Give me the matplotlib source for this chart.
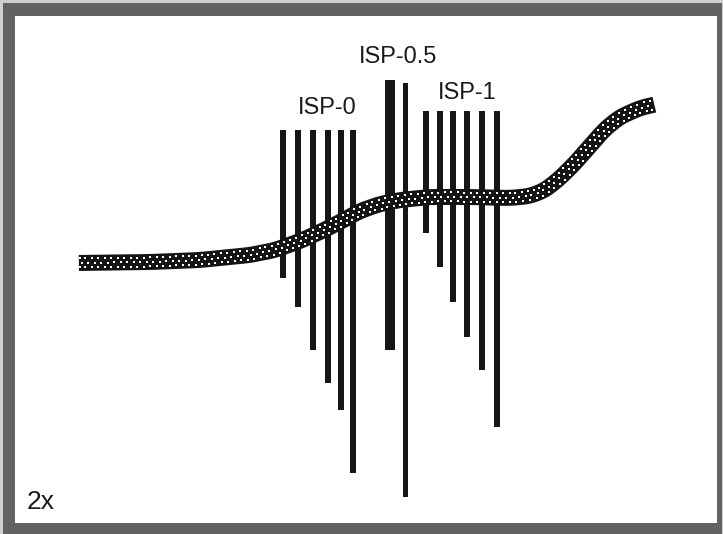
import numpy as np
import matplotlib
matplotlib.use("Agg")
import matplotlib.pyplot as plt
from matplotlib.patches import Rectangle, Polygon

plt.rcParams['font.family'] = ['Liberation Sans', 'DejaVu Sans']

# bar groups (pixel space of the original figure, y grows downward)
isp0_x = [283, 298, 313, 328, 341, 353]
isp0_top = 130
isp0_bottom = [278, 307, 350, 383, 410, 473]

isp05_x = [390, 405.5]
isp05_top = [80, 83]
isp05_bottom = [350, 497]
isp05_width = [10, 5]

isp1_x = [426, 440, 453, 467, 482, 497]
isp1_top = 111
isp1_bottom = [233, 267, 302, 337, 370, 427]

# centre line of the dotted band
band_x = [77, 150, 200, 250, 275, 300, 320, 340, 360, 380, 400, 430, 470, 510,
          530, 545, 560, 575, 590, 605, 620, 640, 657]
band_y = [263, 262, 260, 255, 250, 241, 232, 222, 211, 204, 200, 197, 197, 198,
          196, 190, 178, 163, 146, 129, 117, 108, 104]

labels = ["ISP-0", "ISP-0.5", "ISP-1"]
label_pos = [(327, 108), (398, 57), (467, 93)]

W, H = 723, 534
fig = plt.figure(figsize=(W / 100, H / 100), dpi=100)
fig.patch.set_facecolor('#cfcfcf')
ax = fig.add_axes([0, 0, 1, 1])
ax.set_xlim(0, W)
ax.set_ylim(H, 0)
ax.axis('off')

# frame
ax.add_patch(Rectangle((3, 3), 719, 531, facecolor='#626262', edgecolor='none'))
ax.add_patch(Rectangle((15, 16), 702, 507, facecolor='white', edgecolor='none'))

bar_col = '#161616'
ax.bar(isp0_x, np.array(isp0_bottom) - isp0_top, bottom=isp0_top, width=5.5, color=bar_col)
ax.bar(isp05_x, np.array(isp05_bottom) - np.array(isp05_top), bottom=isp05_top,
       width=isp05_width, color=bar_col)
ax.bar(isp1_x, np.array(isp1_bottom) - isp1_top, bottom=isp1_top, width=5.5, color=bar_col)

# band: resample the centre line by arc length and offset along the normals
bx, by = np.array(band_x, float), np.array(band_y, float)
seg = np.hypot(np.diff(bx), np.diff(by))
s = np.concatenate([[0], np.cumsum(seg)])
ss = np.arange(0, s[-1], 1.0)
cx, cy = np.interp(ss, s, bx), np.interp(ss, s, by)
k = np.ones(15) / 15
cx_s = np.convolve(np.pad(cx, 7, mode='edge'), k, mode='valid')
cy_s = np.convolve(np.pad(cy, 7, mode='edge'), k, mode='valid')
tx, ty = np.gradient(cx_s), np.gradient(cy_s)
n = np.hypot(tx, ty)
nx, ny = -ty / n, tx / n
half = 8
upper = np.column_stack([cx_s + nx * half, cy_s + ny * half])
lower = np.column_stack([cx_s - nx * half, cy_s - ny * half])
ax.add_patch(Polygon(np.vstack([upper, lower[::-1]]), closed=True,
                     facecolor='#141414', edgecolor='none', zorder=3))

# white dot texture, three staggered rows along the band
step = 6.5
for j, off in enumerate([-4.5, 0, 4.5]):
    pos = np.arange(2 + (step / 2) * (j % 2), ss[-1] - 2, step)
    idx = pos.astype(int)
    ax.plot(cx_s[idx] + nx[idx] * off, cy_s[idx] + ny[idx] * off, 's',
            color='white', markersize=1.9, markeredgewidth=0, zorder=4)

for lab, (x, y) in zip(labels, label_pos):
    ax.text(x, y, lab, fontsize=17, ha='center', va='center', color='#1a1a1a')
ax.text(27, 502, "2x", fontsize=19, ha='left', va='center', color='#1a1a1a')

fig.savefig("out.png", dpi=100, facecolor=fig.get_facecolor())
